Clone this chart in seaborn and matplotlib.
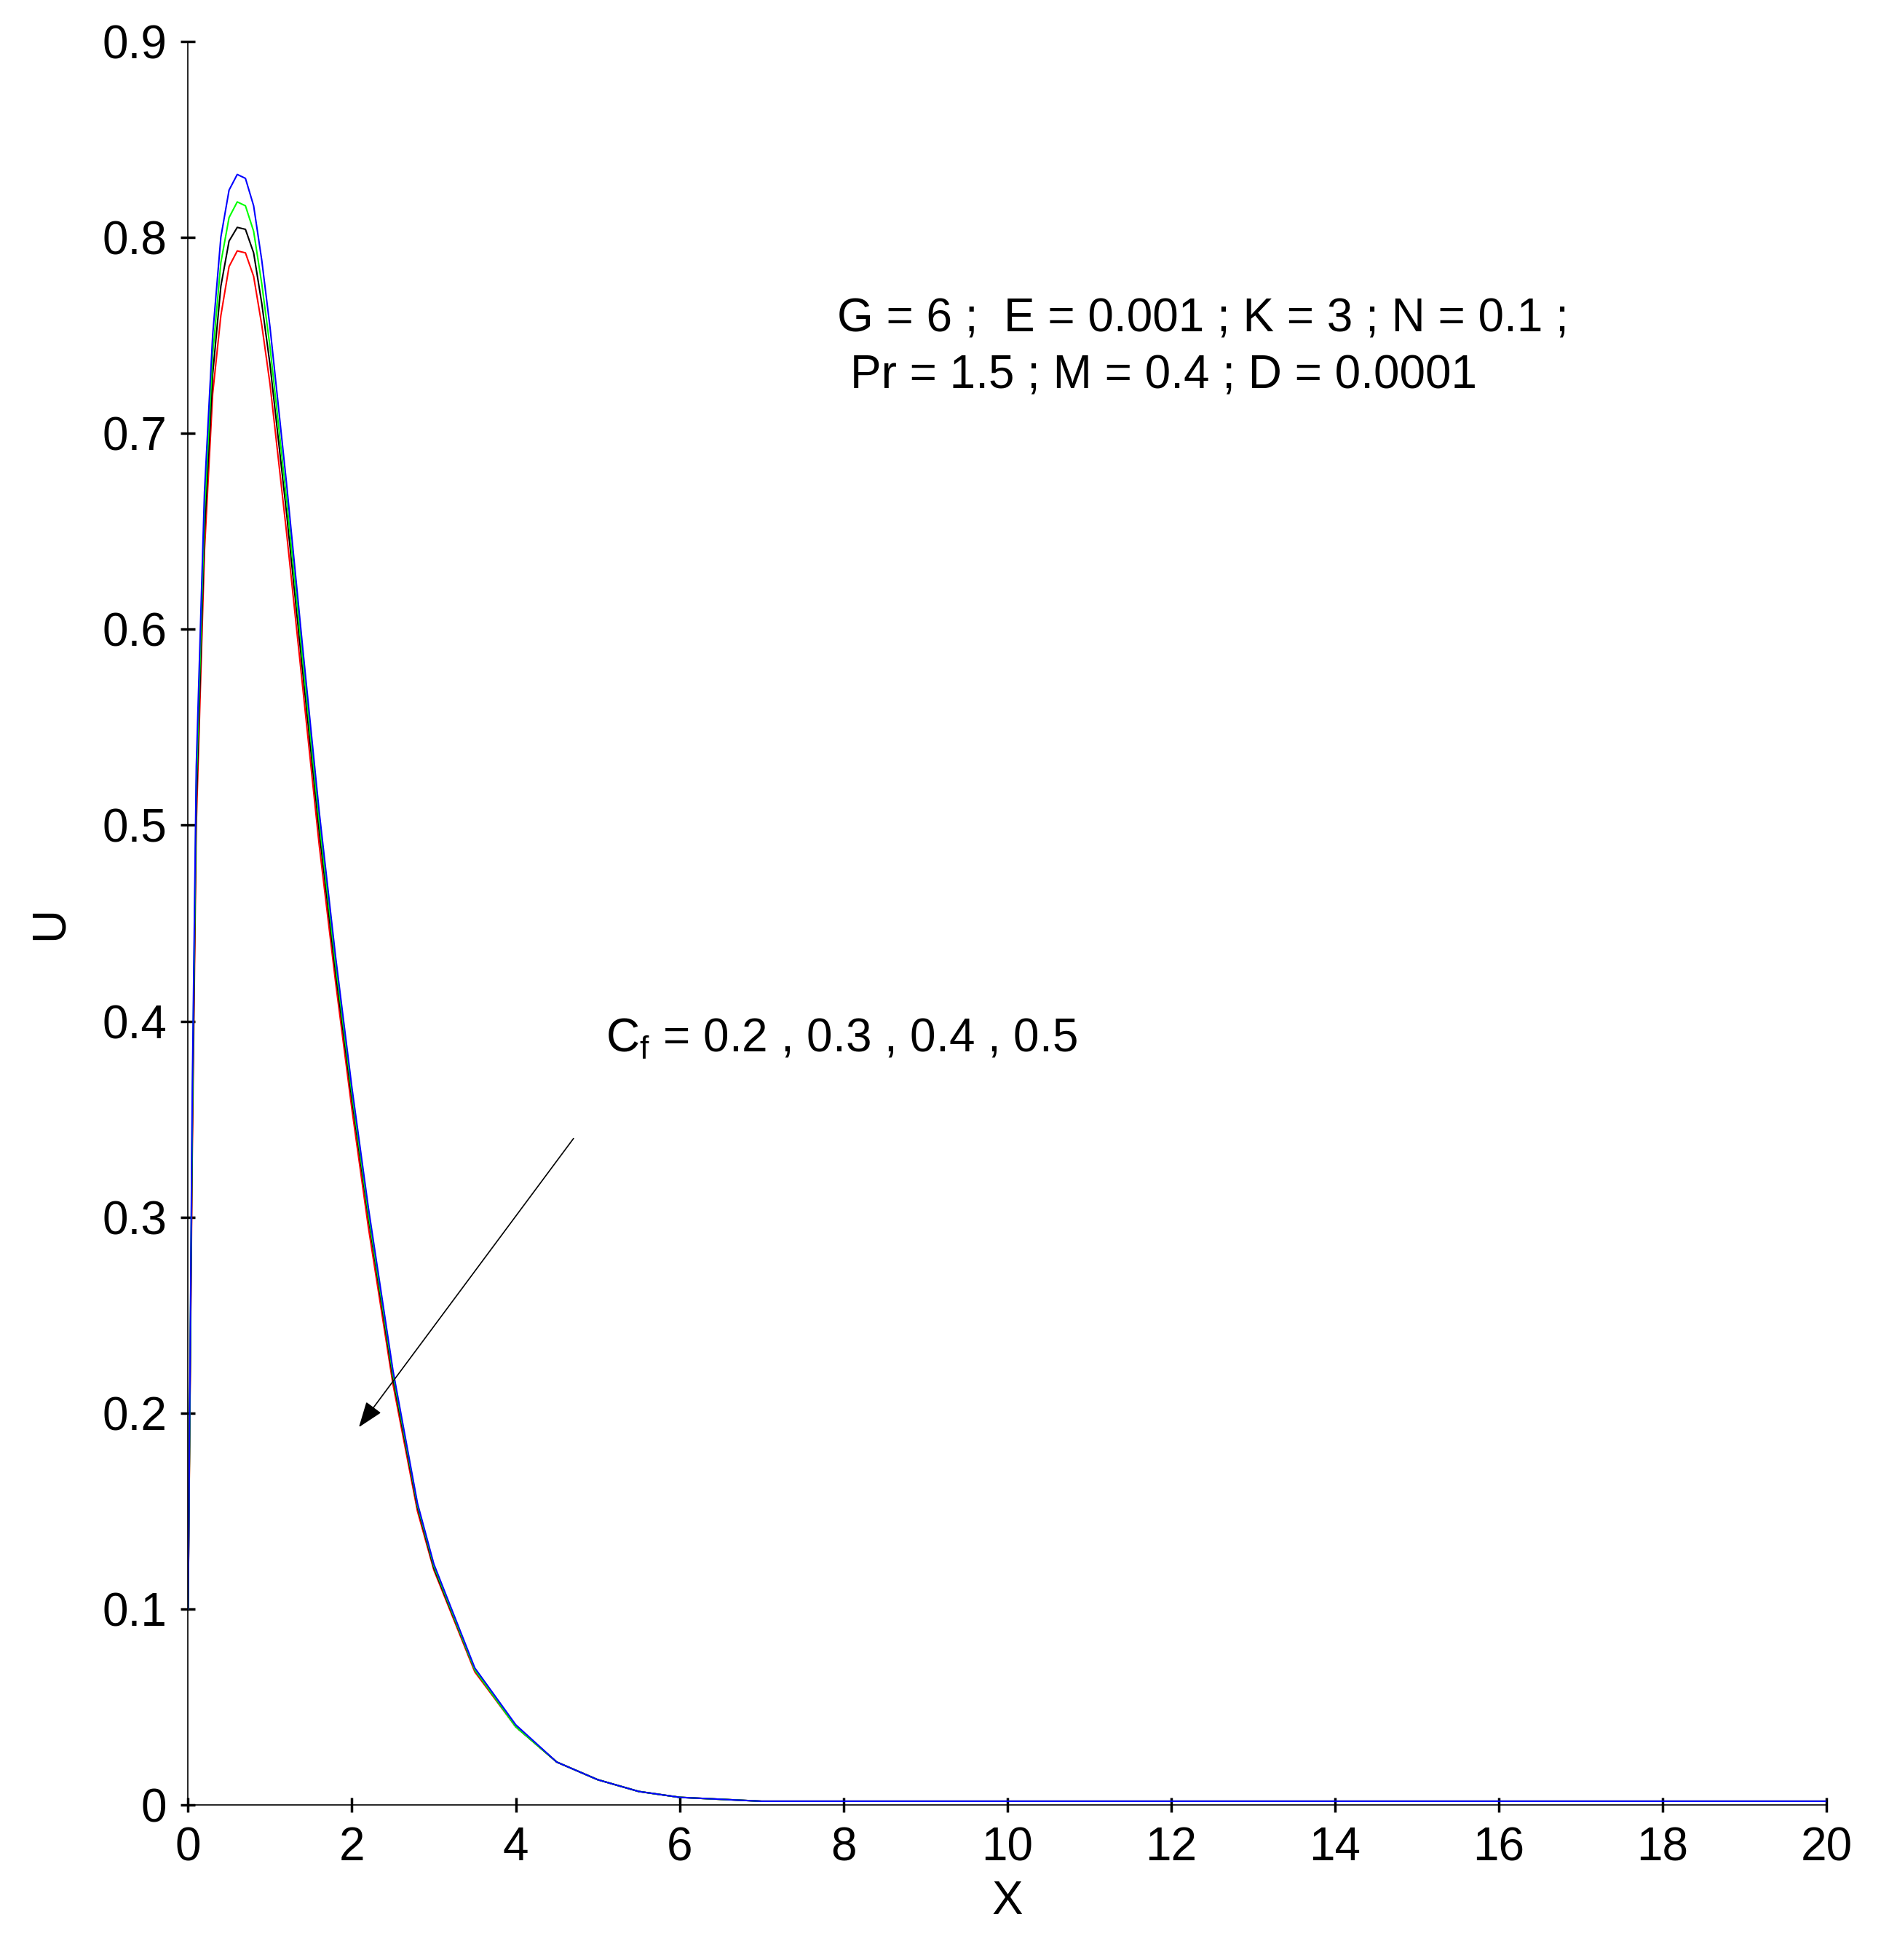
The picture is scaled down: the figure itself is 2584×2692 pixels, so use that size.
import matplotlib
matplotlib.use("Agg")
import matplotlib.pyplot as plt
import seaborn as sns

sns.set_style("white", {'xtick.bottom': True, 'ytick.left': True})
plt.rcParams['font.family'] = ['Liberation Sans', 'DejaVu Sans']
plt.rcParams['text.color'] = 'black'
plt.rcParams['axes.labelcolor'] = 'black'
plt.rcParams['xtick.color'] = 'black'
plt.rcParams['ytick.color'] = 'black'

x = [0, 0.05, 0.1, 0.2, 0.3, 0.4, 0.5, 0.6, 0.7, 0.8, 0.9, 1.0, 1.2, 1.4, 1.6, 1.8, 2.0, 2.2, 2.5, 2.8, 3.0, 3.5, 4.0, 4.5, 5.0, 5.5, 6.0, 6.5, 7.0, 10, 14, 20]
u_02 = [0.10, 0.33, 0.50, 0.64, 0.72, 0.76, 0.785, 0.793, 0.792, 0.78, 0.755, 0.725, 0.65, 0.57, 0.49, 0.42, 0.355, 0.295, 0.215, 0.15, 0.12, 0.068, 0.040, 0.022, 0.013, 0.007, 0.004, 0.003, 0.002, 0.002, 0.002, 0.002]
u_03 = [0.10, 0.34, 0.51, 0.65, 0.73, 0.775, 0.798, 0.805, 0.804, 0.792, 0.766, 0.735, 0.66, 0.578, 0.497, 0.425, 0.36, 0.30, 0.218, 0.152, 0.121, 0.069, 0.040, 0.022, 0.013, 0.007, 0.004, 0.003, 0.002, 0.002, 0.002, 0.002]
u_04 = [0.10, 0.35, 0.52, 0.66, 0.74, 0.787, 0.81, 0.818, 0.816, 0.803, 0.776, 0.744, 0.667, 0.584, 0.502, 0.429, 0.363, 0.302, 0.22, 0.153, 0.122, 0.069, 0.040, 0.022, 0.013, 0.007, 0.004, 0.003, 0.002, 0.002, 0.002, 0.002]
u_05 = [0.10, 0.36, 0.53, 0.67, 0.75, 0.80, 0.824, 0.832, 0.830, 0.816, 0.788, 0.754, 0.675, 0.59, 0.507, 0.433, 0.366, 0.305, 0.222, 0.154, 0.123, 0.070, 0.041, 0.022, 0.013, 0.007, 0.004, 0.003, 0.002, 0.002, 0.002, 0.002]

fig = plt.figure(figsize=(25.84, 26.92), dpi=100)
ax = fig.add_axes([0.1, 0.079, 0.871, 0.9])
for y, c in [(u_02, 'red'), (u_03, 'black'), (u_04, 'lime'), (u_05, 'blue')]:
    sns.lineplot(x=x, y=y, ax=ax, color=c, lw=1.5)

ax.set_xlim(0, 20)
ax.set_ylim(0, 0.9)
ax.set_xticks(range(0, 21, 2))
ax.set_yticks([i / 10 for i in range(10)])
ax.set_yticklabels(['0'] + [f'{i/10:.1f}' for i in range(1, 10)])
for s in ['top', 'right']:
    ax.spines[s].set_visible(False)
for s in ['left', 'bottom']:
    ax.spines[s].set_color('black'); ax.spines[s].set_linewidth(1.2)
ax.tick_params(direction='inout', length=14, width=2.5, labelsize=46, pad=14)
ax.set_xlabel('X', fontsize=46, labelpad=10)
ax.set_ylabel('U', fontsize=46, labelpad=30)

ax.text(7.92, 0.758, 'G = 6 ;  E = 0.001 ; K = 3 ; N = 0.1 ;', fontsize=46, va='center')
ax.text(8.08, 0.729, 'Pr = 1.5 ; M = 0.4 ; D = 0.0001', fontsize=46, va='center')
ax.annotate('', xy=(2.07, 0.192), xytext=(4.72, 0.341),
            arrowprops=dict(arrowstyle='-|>,head_length=2.2,head_width=0.8', color='black', lw=1.2))
ax.text(5.1, 0.391, r'C$_\mathregular{f}$ = 0.2 , 0.3 , 0.4 , 0.5', fontsize=46, va='center')

fig.savefig('out.png', dpi=100)
